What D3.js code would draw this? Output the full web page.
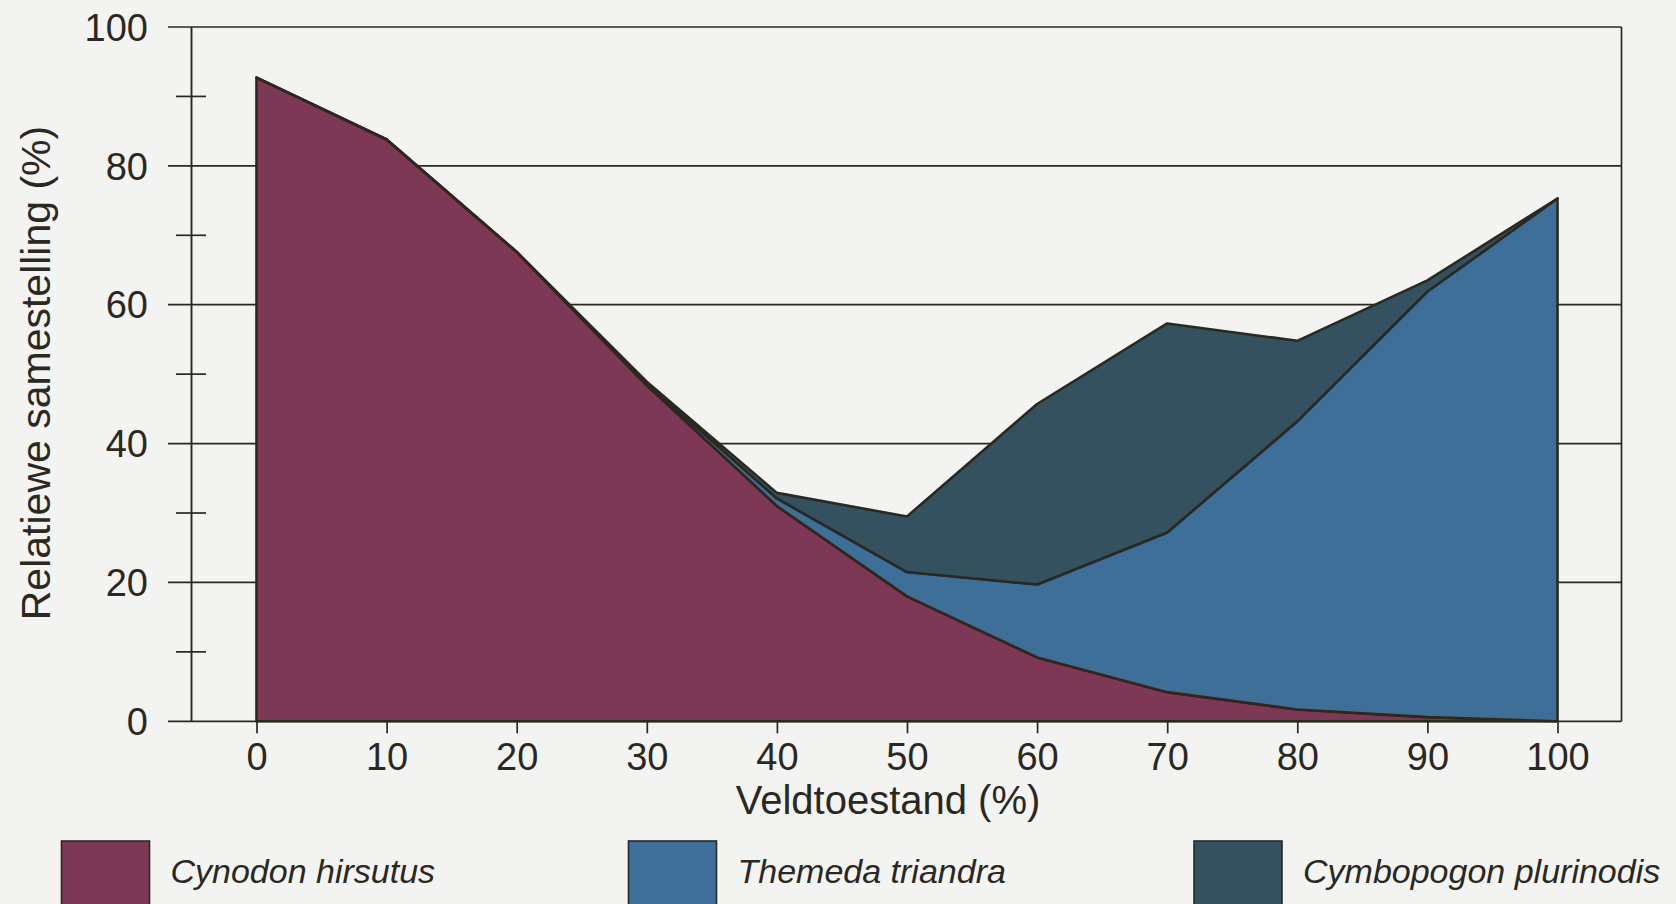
<!DOCTYPE html>
<html>
<head>
<meta charset="utf-8">
<script src="https://cdn.jsdelivr.net/npm/d3@7"></script>
<style>
  html, body { margin: 0; padding: 0; background: #f3f3f1; }
  svg { display: block; }
  text { font-family: "Liberation Sans", Arial, sans-serif; fill: #2a281f; }
</style>
</head>
<body>
<svg id="chart" width="1676" height="904"></svg>
<script>
// Veld condition (%) along the x axis
const veldCondition = [0, 10, 20, 30, 40, 50, 60, 70, 80, 90, 100];

// Relative composition (%) of each grass species
const cynodon    = [92.7, 83.8, 67.6, 48.4, 31.0, 18.0, 9.2, 4.2, 1.7, 0.6, 0];
const themeda    = [0, 0, 0, 0.3, 1.1, 3.5, 10.5, 23.0, 41.5, 61.3, 75.3];
const cymbopogon = [0, 0, 0, 0.2, 0.8, 8.0, 26.0, 30.1, 11.6, 1.6, 0];

const speciesNames = ["Cynodon hirsutus", "Themeda triandra", "Cymbopogon plurinodis"];
const speciesColors = ["#7d3855", "#3e6f99", "#34515f"];

const xTicks = [0, 10, 20, 30, 40, 50, 60, 70, 80, 90, 100];
const yMajorTicks = [0, 20, 40, 60, 80, 100];
const yMinorTicks = [10, 30, 50, 70, 90];

const xTitle = "Veldtoestand (%)";
const yTitle = "Relatiewe samestelling (%)";

const ink = "#2b291f";

const svg = d3.select("#chart");

const x = d3.scaleLinear().domain([0, 100]).range([256.5, 1557.5]);
const y = d3.scaleLinear().domain([0, 100]).range([721.3, 27]);

const axisX = 191.5;     // left vertical axis
const frameRight = 1621.5;
const gridStart = 168;

// rows for the stack
const rows = veldCondition.map((v, i) => ({
  v,
  [speciesNames[0]]: cynodon[i],
  [speciesNames[1]]: themeda[i],
  [speciesNames[2]]: cymbopogon[i]
}));
const stacked = d3.stack().keys(speciesNames)(rows);

// horizontal grid lines (behind the areas)
svg.append("g")
  .selectAll("line")
  .data(yMajorTicks)
  .join("line")
  .attr("x1", gridStart).attr("x2", frameRight)
  .attr("y1", d => y(d)).attr("y2", d => y(d))
  .attr("stroke", ink).attr("stroke-width", 1.7);

// right frame
svg.append("line")
  .attr("x1", frameRight).attr("x2", frameRight)
  .attr("y1", y(100)).attr("y2", y(0))
  .attr("stroke", ink).attr("stroke-width", 1.7);

// stacked areas
const area = d3.area()
  .x(d => x(d.data.v))
  .y0(d => y(d[0]))
  .y1(d => y(d[1]));

svg.append("g")
  .selectAll("path")
  .data(stacked)
  .join("path")
  .attr("d", area)
  .attr("fill", (d, i) => speciesColors[i])
  .attr("stroke", ink)
  .attr("stroke-width", 2.6)
  .attr("stroke-linejoin", "round");

// left axis line
svg.append("line")
  .attr("x1", axisX).attr("x2", axisX)
  .attr("y1", y(100)).attr("y2", y(0))
  .attr("stroke", ink).attr("stroke-width", 1.9);

// minor ticks crossing the left axis
svg.append("g")
  .selectAll("line")
  .data(yMinorTicks)
  .join("line")
  .attr("x1", 176).attr("x2", 206)
  .attr("y1", d => y(d)).attr("y2", d => y(d))
  .attr("stroke", ink).attr("stroke-width", 1.7);

// y tick labels
svg.append("g")
  .selectAll("text")
  .data(yMajorTicks)
  .join("text")
  .attr("x", 148)
  .attr("y", d => y(d))
  .attr("dy", "0.36em")
  .attr("text-anchor", "end")
  .attr("font-size", 38)
  .text(d => d);

// x ticks and labels
const xAxis = d3.axisBottom(x)
  .tickValues(xTicks)
  .tickSize(12)
  .tickPadding(10)
  .tickFormat(d3.format("d"));

const gx = svg.append("g")
  .attr("transform", `translate(0,${y(0)})`)
  .call(xAxis);
gx.select(".domain").remove();
gx.selectAll(".tick line").attr("stroke", ink).attr("stroke-width", 1.7);
gx.selectAll(".tick text")
  .attr("font-size", 38)
  .attr("font-family", "'Liberation Sans', Arial, sans-serif")
  .attr("fill", "#2a281f");

// axis titles
svg.append("text")
  .attr("x", 888)
  .attr("y", 814)
  .attr("text-anchor", "middle")
  .attr("font-size", 40)
  .text(xTitle);

svg.append("text")
  .attr("transform", "translate(50,373) rotate(-90)")
  .attr("text-anchor", "middle")
  .attr("font-size", 41)
  .text(yTitle);

// legend
const legendX = [61.5, 628.5, 1194];
const legend = svg.append("g")
  .selectAll("g")
  .data(speciesNames)
  .join("g")
  .attr("transform", (d, i) => `translate(${legendX[i]},841)`);

legend.append("rect")
  .attr("width", 88).attr("height", 70)
  .attr("fill", (d, i) => speciesColors[i])
  .attr("stroke", ink).attr("stroke-width", 1.6);

legend.append("text")
  .attr("x", 109)
  .attr("y", 42)
  .attr("font-size", 34)
  .attr("font-style", "italic")
  .text(d => d);
</script>
</body>
</html>
